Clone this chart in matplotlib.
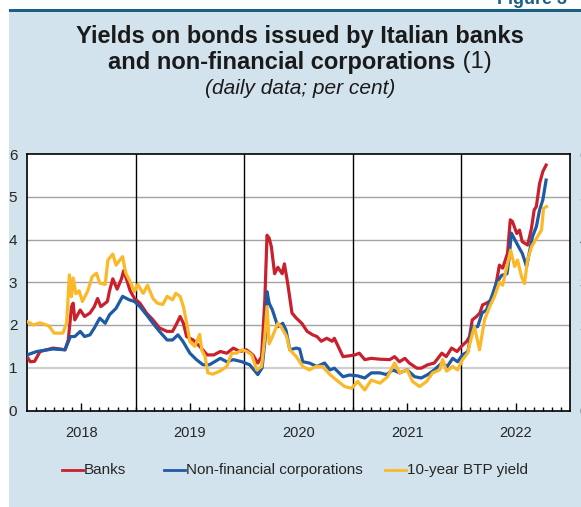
import matplotlib
matplotlib.use("Agg")
import matplotlib.pyplot as plt
from matplotlib.patches import Rectangle
from matplotlib.lines import Line2D
import numpy as np

plt.rcParams['font.family'] = ['Liberation Sans', 'DejaVu Sans']

# ---- data (decimal years, per cent) ----
banks_t = [2018.00, 2018.03, 2018.07, 2018.12, 2018.18, 2018.24, 2018.30, 2018.35, 2018.38, 2018.41,
           2018.425, 2018.44, 2018.49, 2018.53, 2018.58, 2018.62, 2018.65, 2018.68, 2018.74, 2018.76,
           2018.79, 2018.83, 2018.87, 2018.89, 2018.92, 2018.95, 2018.99, 2019.04, 2019.10, 2019.16,
           2019.22, 2019.29, 2019.34, 2019.38, 2019.41, 2019.44, 2019.47, 2019.53, 2019.59, 2019.66,
           2019.72, 2019.78, 2019.84, 2019.90, 2019.96, 2020.02, 2020.08, 2020.125, 2020.16, 2020.19,
           2020.21, 2020.23, 2020.25, 2020.28, 2020.31, 2020.35, 2020.37, 2020.40, 2020.44, 2020.48,
           2020.53, 2020.58, 2020.63, 2020.67, 2020.71, 2020.76, 2020.81, 2020.83, 2020.88, 2020.91,
           2020.97, 2021.02, 2021.06, 2021.11, 2021.17, 2021.25, 2021.34, 2021.385, 2021.43, 2021.48,
           2021.52, 2021.59, 2021.63, 2021.69, 2021.75, 2021.82, 2021.86, 2021.91, 2021.96, 2022.00,
           2022.05, 2022.075, 2022.10, 2022.14, 2022.17, 2022.195, 2022.23, 2022.28, 2022.32, 2022.35,
           2022.38, 2022.425, 2022.45, 2022.47, 2022.51, 2022.535, 2022.56, 2022.61, 2022.645, 2022.67,
           2022.69, 2022.72, 2022.75, 2022.78]
banks_v = [1.26, 1.14, 1.15, 1.38, 1.42, 1.46, 1.44, 1.42, 1.65, 2.43,
           2.51, 2.12, 2.35, 2.20, 2.28, 2.43, 2.62, 2.43, 2.55, 2.80,
           3.08, 2.84, 3.08, 3.27, 3.04, 2.80, 2.62, 2.51, 2.28, 2.12,
           1.93, 1.85, 1.85, 2.04, 2.20, 2.04, 1.73, 1.65, 1.50, 1.30,
           1.30, 1.38, 1.34, 1.46, 1.38, 1.42, 1.30, 1.11, 1.26, 2.58,
           4.10, 4.03, 3.83, 3.20, 3.35, 3.20, 3.43, 2.98, 2.28, 2.16,
           2.04, 1.85, 1.77, 1.73, 1.62, 1.69, 1.62, 1.69, 1.42, 1.26,
           1.28, 1.30, 1.34, 1.19, 1.22, 1.20, 1.19, 1.26, 1.14, 1.22,
           1.11, 0.99, 0.99, 1.07, 1.11, 1.34, 1.26, 1.46, 1.38, 1.50,
           1.62, 1.73, 2.12, 2.20, 2.28, 2.47, 2.51, 2.59, 2.97, 3.40,
           3.33, 3.68, 4.46, 4.42, 4.14, 4.22, 3.95, 3.87, 4.26, 4.69,
           4.77, 5.31, 5.59, 5.74]

nfc_t = [2018.00, 2018.09, 2018.24, 2018.35, 2018.40, 2018.44, 2018.49, 2018.53, 2018.58, 2018.62,
         2018.67, 2018.72, 2018.76, 2018.82, 2018.88, 2018.94, 2018.99, 2019.04, 2019.10, 2019.16,
         2019.22, 2019.29, 2019.34, 2019.39, 2019.435, 2019.50, 2019.56, 2019.62, 2019.68, 2019.78,
         2019.84, 2019.90, 2019.98, 2020.05, 2020.10, 2020.125, 2020.165, 2020.195, 2020.21, 2020.23,
         2020.26, 2020.31, 2020.355, 2020.385, 2020.42, 2020.48, 2020.51, 2020.54, 2020.60, 2020.67,
         2020.74, 2020.79, 2020.83, 2020.91, 2020.97, 2021.045, 2021.11, 2021.17, 2021.25, 2021.31,
         2021.37, 2021.43, 2021.50, 2021.57, 2021.63, 2021.69, 2021.75, 2021.82, 2021.87, 2021.92,
         2021.965, 2022.01, 2022.06, 2022.10, 2022.15, 2022.19, 2022.23, 2022.28, 2022.32, 2022.37,
         2022.42, 2022.44, 2022.46, 2022.51, 2022.535, 2022.56, 2022.60, 2022.63, 2022.655, 2022.69,
         2022.72, 2022.75, 2022.78]
nfc_v = [1.30, 1.38, 1.44, 1.42, 1.73, 1.73, 1.85, 1.73, 1.77, 1.93,
         2.16, 2.04, 2.24, 2.39, 2.67, 2.59, 2.55, 2.43, 2.24, 2.04,
         1.85, 1.65, 1.65, 1.77, 1.62, 1.34, 1.19, 1.07, 1.07, 1.22,
         1.14, 1.19, 1.14, 1.07, 0.92, 0.84, 1.00, 1.73, 2.78, 2.51,
         2.35, 1.96, 2.04, 1.88, 1.42, 1.46, 1.44, 1.14, 1.11, 1.03,
         1.11, 0.95, 0.99, 0.79, 0.83, 0.81, 0.76, 0.88, 0.88, 0.84,
         0.95, 0.88, 0.95, 0.79, 0.76, 0.84, 0.95, 1.11, 1.03, 1.22,
         1.14, 1.30, 1.38, 1.96, 1.96, 2.28, 2.35, 2.67, 2.97, 3.16,
         3.20, 3.59, 4.15, 3.91, 3.79, 3.68, 3.37, 3.75, 4.07, 4.30,
         4.69, 4.93, 5.39]

btp_t = [2018.00, 2018.06, 2018.12, 2018.20, 2018.25, 2018.33, 2018.365, 2018.39, 2018.41, 2018.425,
         2018.45, 2018.48, 2018.51, 2018.56, 2018.60, 2018.64, 2018.67, 2018.72, 2018.745, 2018.79,
         2018.82, 2018.855, 2018.88, 2018.91, 2018.95, 2018.99, 2019.02, 2019.07, 2019.11, 2019.16,
         2019.20, 2019.25, 2019.29, 2019.34, 2019.37, 2019.41, 2019.44, 2019.47, 2019.50, 2019.545,
         2019.59, 2019.61, 2019.64, 2019.665, 2019.71, 2019.775, 2019.84, 2019.886, 2019.93, 2019.98,
         2020.025, 2020.07, 2020.115, 2020.16, 2020.19, 2020.21, 2020.23, 2020.26, 2020.31, 2020.34,
         2020.39, 2020.42, 2020.48, 2020.54, 2020.60, 2020.66, 2020.72, 2020.79, 2020.85, 2020.925,
         2020.99, 2021.045, 2021.11, 2021.17, 2021.25, 2021.32, 2021.385, 2021.43, 2021.50, 2021.55,
         2021.615, 2021.68, 2021.735, 2021.80, 2021.827, 2021.864, 2021.92, 2021.965, 2022.01, 2022.057,
         2022.094, 2022.12, 2022.167, 2022.213, 2022.26, 2022.305, 2022.35, 2022.38, 2022.425, 2022.453,
         2022.49, 2022.517, 2022.554, 2022.581, 2022.609, 2022.646, 2022.692, 2022.738, 2022.756, 2022.784]
btp_v = [2.08, 2.00, 2.05, 1.98, 1.81, 1.81, 2.05, 3.17, 2.66, 3.10,
         2.73, 2.80, 2.55, 2.80, 3.13, 3.21, 2.98, 2.95, 3.52, 3.66,
         3.40, 3.52, 3.60, 3.21, 3.01, 2.78, 2.95, 2.74, 2.93, 2.62,
         2.51, 2.48, 2.67, 2.59, 2.74, 2.67, 2.43, 2.05, 1.61, 1.50,
         1.78, 1.41, 1.26, 0.88, 0.85, 0.92, 1.03, 1.34, 1.34, 1.42,
         1.38, 1.30, 0.95, 1.03, 1.73, 2.43, 1.56, 1.73, 2.04, 1.96,
         1.73, 1.42, 1.26, 1.03, 0.95, 1.03, 1.03, 0.84, 0.71, 0.56,
         0.52, 0.68, 0.48, 0.71, 0.64, 0.79, 1.11, 0.88, 0.95, 0.68,
         0.56, 0.68, 0.88, 0.95, 1.19, 0.92, 1.03, 0.95, 1.19, 1.34,
         1.73, 1.96, 1.42, 2.12, 2.43, 2.67, 3.00, 2.93, 3.44, 3.75,
         3.37, 3.52, 3.13, 2.97, 3.52, 3.83, 4.03, 4.22, 4.73, 4.77]

years = [2018, 2019, 2020, 2021, 2022]
y_ticks = [0, 1, 2, 3, 4, 5, 6]
series_labels = ["Banks", "Non-financial corporations", "10-year BTP yield"]
series_colors = ["#c8202d", "#1f5aa6", "#fbb827"]

W, H = 581, 507
fig = plt.figure(figsize=(W / 100, H / 100), dpi=100)
fig.patch.set_facecolor("white")

def fx(px):
    return px / W

def fy(py):
    return 1 - py / H

# panel background and header rule
fig.patches.append(Rectangle((fx(9), 0), 1 - fx(9), fy(12), transform=fig.transFigure,
                             facecolor="#d2e3ed", edgecolor="none", zorder=-10))
fig.patches.append(Rectangle((fx(9), fy(12)), 1 - fx(9), 3 / H, transform=fig.transFigure,
                             facecolor="#1a5f84", edgecolor="none", zorder=-9))
fig.text(fx(497), fy(4), "Figure 3", color="#1a5f84", fontsize=13, fontweight="bold",
         ha="left", va="baseline")

# titles
cx = fx(300)
fig.text(cx, fy(37), "Yields on bonds issued by Italian banks", fontsize=17, fontweight="bold",
         ha="center", va="center", color="#1a1a1a")
renderer = fig.canvas.get_renderer()
t_bold = fig.text(0, fy(62), "and non-financial corporations", fontsize=17, fontweight="bold",
                  ha="left", va="center", color="#1a1a1a")
t_norm = fig.text(0, fy(62), " (1)", fontsize=17, ha="left", va="center", color="#1a1a1a")
wb = t_bold.get_window_extent(renderer).width
wn = t_norm.get_window_extent(renderer).width
x0 = cx * W - (wb + wn) / 2
t_bold.set_x(x0 / W)
t_norm.set_x((x0 + wb) / W)
fig.text(cx, fy(88), "(daily data; per cent)", fontsize=15, style="italic",
         ha="center", va="center", color="#1a1a1a")

# axes
ax = fig.add_axes([fx(27), fy(410.5), fx(570) - fx(27), (410.5 - 154) / H])
ax.set_facecolor("white")
ax.set_xlim(2018, 2023)
ax.set_ylim(0, 6)

for g in y_ticks[1:-1]:
    if g == 1:
        ax.axhline(g, color="#cfcfcf", lw=1.6, zorder=1)
    else:
        ax.axhline(g, color="#a3a3a3", lw=1.0, zorder=1)
for yr in years[1:]:
    ax.axvline(yr, color="black", lw=1.0, zorder=2)

for t, v, lab, col in zip([banks_t, nfc_t, btp_t], [banks_v, nfc_v, btp_v],
                          series_labels, series_colors):
    ax.plot(t, v, color=col, lw=2.3, label=lab, zorder=3, solid_joinstyle="round")

ax.set_xticks([y + 0.5 for y in years])
ax.set_xticklabels([str(y) for y in years])
ax.set_xticks([2018 + m / 12 for m in range(1, 60)], minor=True)
ax.tick_params(axis="x", which="major", direction="in", length=6, width=1, pad=11,
               labelsize=10.5, labelcolor="#262626", top=False)
ax.tick_params(axis="x", which="minor", direction="in", length=3, width=1, top=False)
ax.set_yticks(y_ticks)
ax.tick_params(axis="y", which="both", length=0, pad=7, labelsize=11, labelcolor="#262626",
               left=True, right=True, labelleft=True, labelright=True)
for s in ax.spines.values():
    s.set_color("black")
    s.set_linewidth(1.2)

# legend
leg_y = fy(470)
for (xs, xe, xt), lab, col in zip([(62, 83, 84), (164, 185, 186), (385, 406, 407)],
                                  series_labels, series_colors):
    fig.add_artist(Line2D([fx(xs), fx(xe)], [leg_y, leg_y], color=col, lw=2.0,
                          transform=fig.transFigure))
    fig.text(fx(xt), leg_y, lab, fontsize=11, ha="left", va="center", color="#262626")

fig.savefig("out.png", dpi=100, facecolor="white")
